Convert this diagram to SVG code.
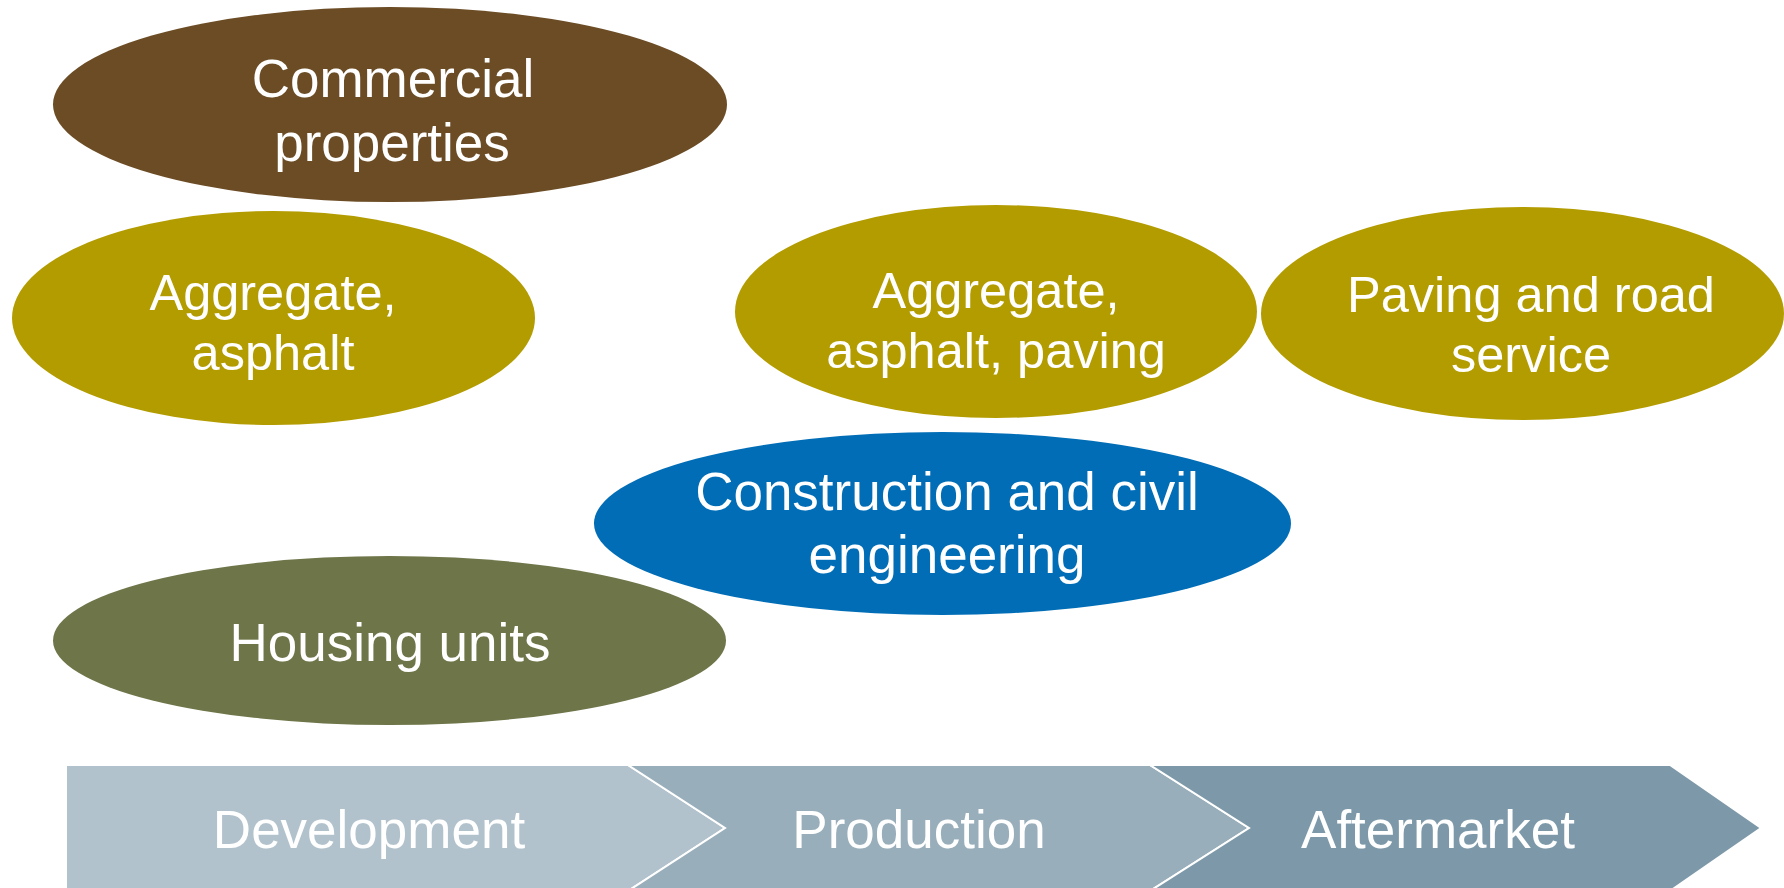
<svg xmlns="http://www.w3.org/2000/svg" width="1784" height="888" viewBox="0 0 1784 888">
<style>
text{font-family:"Liberation Sans",Arial,sans-serif;font-size:53px;fill:#fff;text-anchor:middle}
.sm{font-size:50.5px}
.chev{stroke:#fff;stroke-width:2}
</style>
<rect width="1784" height="888" fill="#fff"/>
<g id="connectors"></g>
<g id="chevron-development"><polygon class="chev" fill="#B2C2CC" points="66,765 628,765 725,828 628,891 66,891"/><text x="369" y="848">Development</text></g>
<g id="chevron-production"><polygon class="chev" fill="#98AEBA" points="628,765 1150,765 1249,828 1150,891 628,891 725,828"/><text x="919" y="848">Production</text></g>
<g id="chevron-aftermarket"><polygon class="chev" fill="#7D99A9" points="1150,765 1670,765 1761,828 1670,891 1150,891 1249,828"/><text x="1438" y="848">Aftermarket</text></g>
<g id="commercial"><ellipse cx="390" cy="104.5" rx="337" ry="97.5" fill="#6B4C25"/><text x="393" y="97">Commercial</text><text x="392" y="161">properties</text></g>
<g id="aggregate-asphalt"><ellipse cx="273.5" cy="318" rx="261.5" ry="107" fill="#B39C00"/><text class="sm" x="273" y="310">Aggregate,</text><text class="sm" x="273" y="370">asphalt</text></g>
<g id="aggregate-asphalt-paving"><ellipse cx="996" cy="311.5" rx="261" ry="106.5" fill="#B39C00"/><text class="sm" x="996" y="308">Aggregate,</text><text class="sm" x="996" y="368">asphalt, paving</text></g>
<g id="paving-road"><ellipse cx="1522.5" cy="313.5" rx="261.5" ry="106.5" fill="#B39C00"/><text class="sm" x="1531" y="312">Paving and road</text><text class="sm" x="1531" y="372">service</text></g>
<g id="construction"><ellipse cx="942.5" cy="523.5" rx="348.5" ry="91.5" fill="#006DB6"/><text x="947" y="510">Construction and civil</text><text x="947" y="573">engineering</text></g>
<g id="housing"><ellipse cx="389.5" cy="640.5" rx="336.5" ry="84.5" fill="#6E7548"/><text x="390" y="661">Housing units</text></g>
</svg>
